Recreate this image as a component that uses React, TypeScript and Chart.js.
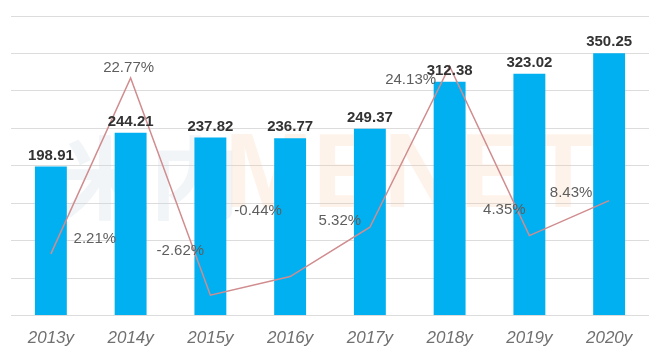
import React, { useEffect, useRef } from "react";
import { Chart, registerables } from "chart.js";

Chart.register(...registerables);

const categories = ["2013y", "2014y", "2015y", "2016y", "2017y", "2018y", "2019y", "2020y"];
const salesValues = [198.91, 244.21, 237.82, 236.77, 249.37, 312.38, 323.02, 350.25];
const growthRates = [2.21, 22.77, -2.62, -0.44, 5.32, 24.13, 4.35, 8.43];

// manual label placement offsets (px) for growth labels, relative to each point
const growthLabelOffsets: [number, number][] = [
  [44, -15],
  [-2, -10],
  [-30, -44],
  [-32, -66],
  [-30, -6],
  [-39, 14],
  [-25, -26],
  [-38, -8],
];

const labelPlugin = {
  id: "labels",
  beforeDatasetsDraw(chart: any) {
    const ctx = chart.ctx;
    ctx.save();
    ctx.textAlign = "center";
    ctx.textBaseline = "middle";
    ctx.fillStyle = "rgba(200,215,228,0.25)";
    ctx.font = "bold 90px 'Noto Sans CJK SC'";
    ctx.fillText("米内", 150, 178);
    ctx.fillStyle = "rgba(250,200,160,0.22)";
    ctx.font = "bold 106px 'Liberation Sans'";
    ctx.fillText("MENET", 410, 178);
    ctx.restore();
  },
  afterDatasetsDraw(chart: any) {
    const ctx = chart.ctx;
    ctx.save();
    ctx.textAlign = "center";
    ctx.textBaseline = "middle";
    const barMeta = chart.getDatasetMeta(0);
    ctx.font = "bold 15px 'Liberation Sans'";
    ctx.fillStyle = "#333333";
    barMeta.data.forEach((el: any, i: number) => {
      ctx.fillText(salesValues[i].toFixed(2), el.x, el.y - 11);
    });
    const lineMeta = chart.getDatasetMeta(1);
    ctx.font = "15px 'Liberation Sans'";
    ctx.fillStyle = "#5e5e5e";
    lineMeta.data.forEach((el: any, i: number) => {
      const [dx, dy] = growthLabelOffsets[i];
      ctx.fillText(growthRates[i].toFixed(2) + "%", el.x + dx, el.y + dy);
    });
    ctx.restore();
  },
};

export default function App() {
  const canvasRef = useRef<HTMLCanvasElement | null>(null);

  useEffect(() => {
    if (!canvasRef.current) return;
    const chart = new Chart(canvasRef.current, {
      type: "bar",
      data: {
        labels: categories,
        datasets: [
          {
            type: "bar",
            data: salesValues,
            backgroundColor: "#00b0f0",
            barPercentage: 0.4,
            categoryPercentage: 1,
            yAxisID: "y",
            order: 2,
          } as any,
          {
            type: "line",
            data: growthRates,
            borderColor: "#d08c8e",
            borderWidth: 1.5,
            pointRadius: 0,
            tension: 0,
            fill: false,
            yAxisID: "y1",
            order: 1,
          } as any,
        ],
      },
      options: {
        animation: false,
        responsive: false,
        maintainAspectRatio: false,
        layout: { padding: { left: 11, right: 9, top: 16, bottom: 0 } },
        plugins: {
          legend: { display: false },
          tooltip: { enabled: false },
        },
        scales: {
          x: {
            offset: true,
            grid: { display: false, drawTicks: false },
            border: { display: false },
            ticks: {
              color: "#707070",
              padding: 12,
              font: { family: "'Liberation Sans'", size: 17, style: "italic" },
            },
          },
          y: {
            min: 0,
            max: 400,
            ticks: { stepSize: 50, display: false },
            grid: { color: "#dcdcdc", drawTicks: false, lineWidth: 1 },
            border: { display: false },
          },
          y1: {
            display: false,
            min: -5,
            max: 30,
          },
        },
      },
      plugins: [labelPlugin],
    });
    return () => chart.destroy();
  }, []);

  return (
    <div style={{ position: "absolute", left: 0, top: 0, width: 658, height: 360, background: "#ffffff" }}>
      <canvas ref={canvasRef} width={658} height={360} style={{ width: 658, height: 360 }} />
    </div>
  );
}
